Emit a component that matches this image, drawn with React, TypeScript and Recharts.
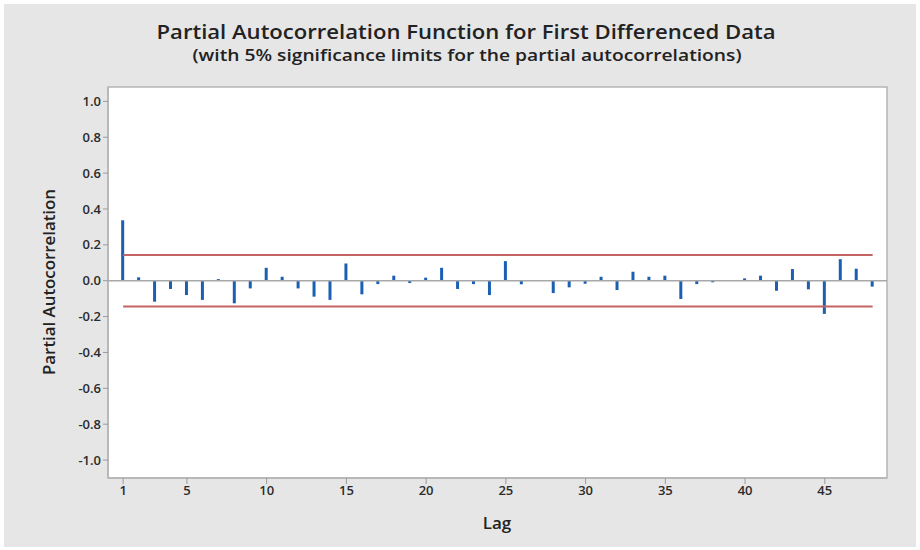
import React from 'react';
import { ComposedChart, Bar, XAxis, YAxis, ReferenceLine, ReferenceArea } from 'recharts';

const lags = [
  1, 2, 3, 4, 5, 6, 7, 8, 9, 10, 11, 12, 13, 14, 15, 16, 17, 18, 19, 20, 21, 22, 23, 24,
  25, 26, 27, 28, 29, 30, 31, 32, 33, 34, 35, 36, 37, 38, 39, 40, 41, 42, 43, 44, 45, 46, 47, 48,
];

const pacfValues = [
  0.337, 0.019, -0.117, -0.046, -0.08, -0.107, 0.009, -0.126, -0.043, 0.072, 0.022, -0.043,
  -0.089, -0.107, 0.096, -0.076, -0.019, 0.028, -0.013, 0.017, 0.072, -0.046, -0.019, -0.08,
  0.109, -0.02, 0, -0.069, -0.037, -0.017, 0.022, -0.052, 0.05, 0.022, 0.028, -0.102,
  -0.019, -0.009, 0, 0.013, 0.028, -0.056, 0.065, -0.048, -0.185, 0.12, 0.067, -0.033,
];

const xTicks = [1, 5, 10, 15, 20, 25, 30, 35, 40, 45];
const yTicks = [-1.0, -0.8, -0.6, -0.4, -0.2, 0.0, 0.2, 0.4, 0.6, 0.8, 1.0];

const sigLimit = 0.144;

const data = lags.map((lag, i) => ({ lag, pacf: pacfValues[i] }));

const FONT = '"Open Sans", "Noto Sans", sans-serif';
const X_MIN = 0.05;
const X_MAX = 48.9;
const Y_MIN = -1.1;
const Y_MAX = 1.08;

const App = () => {
  return (
    <div style={{ position: 'absolute', left: 0, top: 0, width: 920, height: 550, background: '#fff' }}>
      <div style={{ position: 'absolute', left: 4, top: 4, width: 912, height: 543, background: '#e6e6e6' }} />
      <div style={{ position: 'absolute', left: 0, top: 0 }}>
        <ComposedChart
          width={920}
          height={550}
          data={data}
          margin={{ top: 87, right: 33, left: 48, bottom: 22 }}
        >
          <ReferenceArea
            x1={X_MIN}
            x2={X_MAX}
            y1={Y_MIN}
            y2={Y_MAX}
            fill="#ffffff"
            fillOpacity={1}
            stroke="#b5b5b5"
            strokeWidth={1.5}
          />
          <XAxis
            dataKey="lag"
            type="number"
            domain={[X_MIN, X_MAX]}
            ticks={xTicks}
            allowDataOverflow
            height={50}
            tickSize={6}
            axisLine={{ stroke: '#b5b5b5', strokeWidth: 1.5 }}
            tickLine={{ stroke: '#9a9a9a' }}
            tick={{ fill: '#2b2b2b', fontSize: 13, fontWeight: 600, fontFamily: FONT }}
          />
          <YAxis
            type="number"
            domain={[Y_MIN, Y_MAX]}
            ticks={yTicks}
            allowDataOverflow
            width={60}
            tickSize={5}
            tickFormatter={(v: number) => v.toFixed(1)}
            axisLine={{ stroke: '#b5b5b5', strokeWidth: 1.5 }}
            tickLine={{ stroke: '#9a9a9a' }}
            tick={{ fill: '#2b2b2b', fontSize: 13, fontWeight: 600, fontFamily: FONT }}
          />
          <ReferenceLine y={0} stroke="#a8a8a8" strokeWidth={1.5} />
          <ReferenceLine
            segment={[{ x: 1, y: sigLimit }, { x: 48, y: sigLimit }]}
            stroke="#c46464"
            strokeWidth={2}
          />
          <ReferenceLine
            segment={[{ x: 1, y: -sigLimit }, { x: 48, y: -sigLimit }]}
            stroke="#c46464"
            strokeWidth={2}
          />
          <Bar dataKey="pacf" fill="#1b5fb3" barSize={3} isAnimationActive={false} />
        </ComposedChart>
      </div>
      <svg
        width={920}
        height={550}
        style={{ position: 'absolute', left: 0, top: 0, pointerEvents: 'none' }}
      >
        <text
          x={466}
          y={39}
          textAnchor="middle"
          fontFamily={FONT}
          fontSize={20}
          fontWeight={600}
          fill="#222"
          textLength={619}
          lengthAdjust="spacingAndGlyphs"
        >
          Partial Autocorrelation Function for First Differenced Data
        </text>
        <text
          x={467}
          y={61}
          textAnchor="middle"
          fontFamily={FONT}
          fontSize={16}
          fontWeight={600}
          fill="#222"
          textLength={549}
          lengthAdjust="spacingAndGlyphs"
        >
          (with 5% significance limits for the partial autocorrelations)
        </text>
        <text
          x={0}
          y={0}
          transform="translate(55,282) rotate(-90)"
          textAnchor="middle"
          fontFamily={FONT}
          fontSize={16}
          fontWeight={600}
          fill="#222"
          textLength={186}
          lengthAdjust="spacingAndGlyphs"
        >
          Partial Autocorrelation
        </text>
        <text
          x={497}
          y={529}
          textAnchor="middle"
          fontFamily={FONT}
          fontSize={17}
          fontWeight={600}
          fill="#222"
        >
          Lag
        </text>
      </svg>
    </div>
  );
};

export default App;
